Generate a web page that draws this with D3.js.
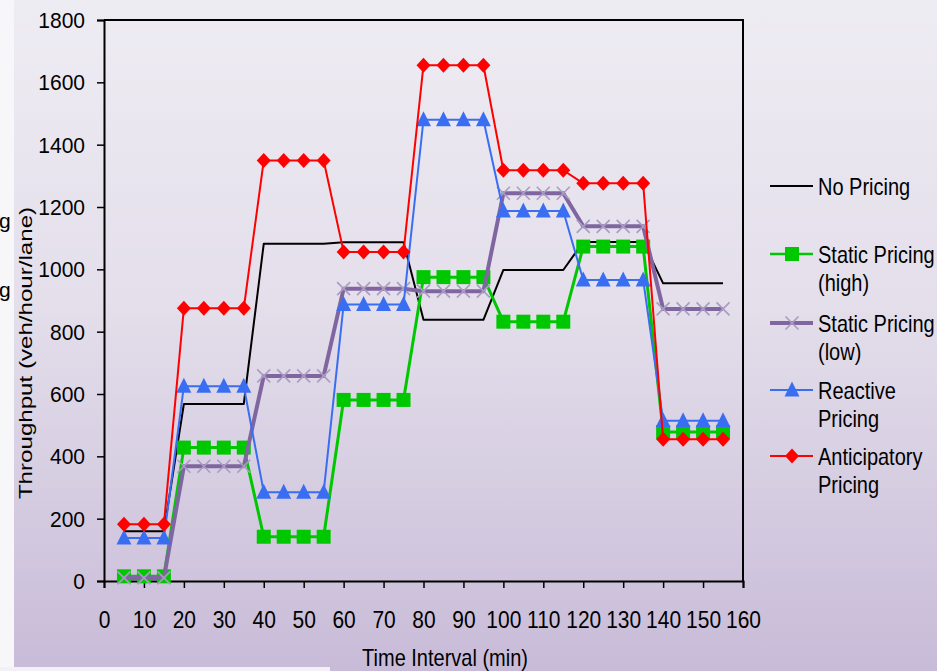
<!DOCTYPE html>
<html><head><meta charset="utf-8">
<script src="https://cdn.jsdelivr.net/npm/d3@7"></script>
<style>html,body{margin:0;padding:0;background:#fff;}svg{display:block;}</style>
</head><body><svg id="c" width="937" height="671"></svg>
<script>
// ---- data ----
const timeMin = [5,10,15,20,25,30,35,40,45,50,55,60,65,70,75,80,85,90,95,100,105,110,115,120,125,130,135,140,145,150,155];
const noPricing    = [160,160,160,568,568,568,568,1082,1082,1082,1082,1087,1087,1087,1087,838,838,838,838,998,998,998,998,1088,1088,1088,1088,955,955,955,955];
const staticHigh   = [15,15,15,428,428,428,428,142,142,142,142,581,581,581,581,975,975,975,975,832,832,832,832,1073,1073,1073,1073,478,478,478,478];
const staticLow    = [10,10,10,368,368,368,368,658,658,658,658,938,938,938,938,930,930,930,930,1244,1244,1244,1244,1138,1138,1138,1138,873,873,873,873];
const reactive     = [138,138,138,625,625,625,625,285,285,285,285,887,887,887,887,1480,1480,1480,1480,1187,1187,1187,1187,966,966,966,966,514,514,514,514];
const anticipatory = [182,182,182,875,875,875,875,1349,1349,1349,1349,1056,1056,1056,1056,1655,1655,1655,1655,1318,1318,1318,1318,1276,1276,1276,1276,455,455,455,455];
const seriesNames = ["No Pricing","Static Pricing (high)","Static Pricing (low)","Reactive Pricing","Anticipatory Pricing"];
const legendLines = [["No Pricing"],["Static Pricing","(high)"],["Static Pricing","(low)"],["Reactive","Pricing"],["Anticipatory","Pricing"]];
const xTicks = [0,10,20,30,40,50,60,70,80,90,100,110,120,130,140,150,160];
const yTicks = [0,200,400,600,800,1000,1200,1400,1600,1800];

// ---- styles ----
const styles = [
  {values:noPricing, color:"#000000", width:2, marker:null},
  {values:staticHigh, color:"#00c800", width:3, marker:"square", mcolor:"#00c800"},
  {values:staticLow, color:"#8066a0", width:4, marker:"x", mcolor:"#a99cc2"},
  {values:reactive, color:"#3a6ef2", width:2, marker:"triangle", mcolor:"#3a6ef2"},
  {values:anticipatory, color:"#ff0000", width:2, marker:"diamond", mcolor:"#ff0000"}
];
const FONT = "'Liberation Sans', Arial, sans-serif";

const svg = d3.select("#c");
const W = 937, H = 671;
const defs = svg.append("defs");
const grad = defs.append("linearGradient").attr("id","bg").attr("x1",0).attr("y1",0).attr("x2",0).attr("y2",1);
grad.append("stop").attr("offset","0%").attr("stop-color","#eeecf3");
grad.append("stop").attr("offset","45%").attr("stop-color","#e4dfeb");
grad.append("stop").attr("offset","100%").attr("stop-color","#c8bbd8");
svg.append("rect").attr("width",W).attr("height",H).attr("fill","url(#bg)");
svg.append("rect").attr("x",0).attr("y",0).attr("width",14).attr("height",H).attr("fill","#f7f6f9");
svg.append("rect").attr("x",0).attr("y",667).attr("width",330).attr("height",4).attr("fill","#f3f1f6");

// stray glyphs at left edge
svg.append("text").attr("x",-1).attr("y",228).attr("font-family",FONT).attr("font-size",21).text("g");
svg.append("text").attr("x",-1).attr("y",297).attr("font-family",FONT).attr("font-size",21).text("g");

const x = d3.scaleLinear().domain([0,160]).range([104,743]);
const y = d3.scaleLinear().domain([0,1800]).range([581,20]);

// frame
svg.append("path").attr("d",`M${x(0)},${y(1800)}H${x(160)}V${y(0)}`).attr("fill","none").attr("stroke","#000").attr("stroke-width",2);

// axes
const yAxis = svg.append("g").attr("transform",`translate(${x(0)},0)`)
  .call(d3.axisLeft(y).tickValues(yTicks).tickSize(7).tickPadding(12).tickFormat(d3.format("d")));
const xAxis = svg.append("g").attr("transform",`translate(0,${y(0)})`)
  .call(d3.axisBottom(x).tickValues(xTicks).tickSize(7).tickFormat(d3.format("d")));
[yAxis,xAxis].forEach(g=>{
  g.select(".domain").attr("stroke","#000").attr("stroke-width",2);
  g.selectAll(".tick line").attr("stroke","#000").attr("stroke-width",1.5);
  g.selectAll("text").attr("font-family",FONT).attr("fill","#000").attr("font-size",21);
});
yAxis.selectAll("text").attr("x",0).attr("dy",null).attr("transform","translate(-19,7.5) scale(1,1.05)");
xAxis.selectAll("text").attr("y",0).attr("dy",null).attr("transform","translate(0,47) scale(1,1.15)");

// axis titles
svg.append("text").attr("font-family",FONT).attr("font-size",19).attr("text-anchor","middle")
  .attr("transform","translate(32,353) rotate(-90) scale(1.27,1)").text("Throughput (veh/hour/lane)");
svg.append("text").attr("font-family",FONT).attr("font-size",20).attr("text-anchor","middle")
  .attr("transform","translate(445,666) scale(1,1.2)").text("Time Interval (min)");

// markers
function drawMarker(sel, type, color){
  if(type==="square") sel.append("rect").attr("x",-7).attr("y",-7).attr("width",14).attr("height",14).attr("fill",color);
  else if(type==="triangle") sel.append("path").attr("d","M0,-8.5L7.5,6.5H-7.5Z").attr("fill",color);
  else if(type==="diamond") sel.append("path").attr("d","M0,-7.5L7,0L0,7.5L-7,0Z").attr("fill",color);
  else if(type==="x") sel.append("path").attr("d","M-6.5,-6.5L6.5,6.5M-6.5,6.5L6.5,-6.5").attr("stroke",color).attr("stroke-width",1.6).attr("fill","none");
}

const line = d3.line().x((d,i)=>x(timeMin[i])).y(d=>y(d));
styles.forEach(s=>{
  const g = svg.append("g");
  g.append("path").datum(s.values).attr("d",line).attr("fill","none").attr("stroke",s.color).attr("stroke-width",s.width).attr("stroke-linejoin","round");
  if(s.marker){
    g.selectAll("g.m").data(s.values).join("g").attr("class","m")
      .attr("transform",(d,i)=>`translate(${x(timeMin[i])},${y(d)})`)
      .each(function(){ drawMarker(d3.select(this), s.marker, s.mcolor); });
  }
});

// legend
const legBase = [195,263,332,399,465];
styles.forEach((s,k)=>{
  const g = svg.append("g");
  const ly = legBase[k]-9;
  g.append("line").attr("x1",770).attr("x2",813).attr("y1",ly).attr("y2",ly).attr("stroke",s.color).attr("stroke-width",s.width===4?4:Math.max(2,s.width-0.5));
  if(s.marker){ const m = g.append("g").attr("transform",`translate(792,${ly})`); drawMarker(m, s.marker, s.mcolor); }
  legendLines[k].forEach((t,j)=>{
    g.append("text").attr("font-family",FONT).attr("font-size",20)
      .attr("transform",`translate(818,${legBase[k]+28*j}) scale(1,1.2)`).text(t);
  });
});
</script></body></html>
